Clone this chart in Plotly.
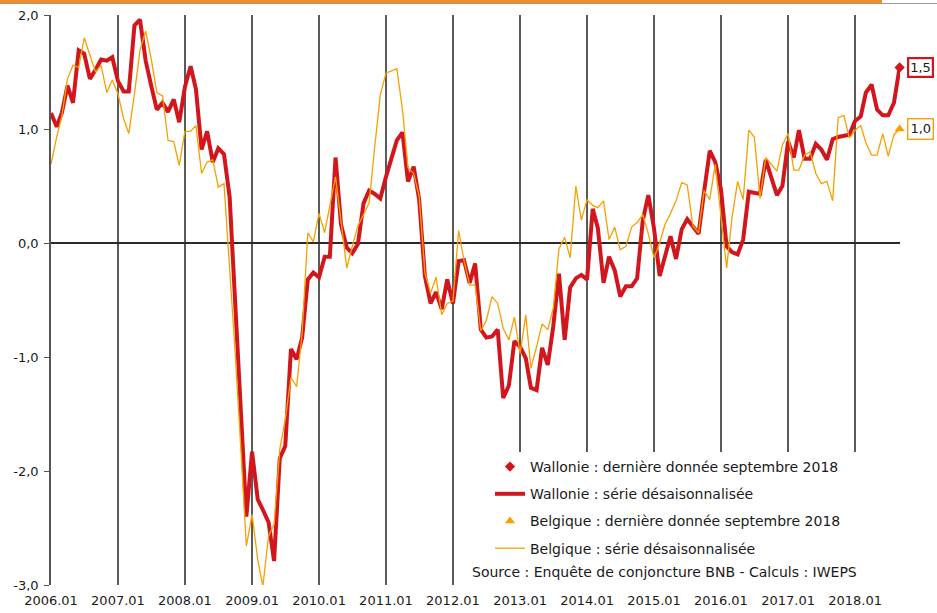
import plotly.graph_objects as go
import pandas as pd

# ---------------- data ----------------
start_month = "2006-01-01"
n_months = 153  # 2006.01 .. 2018.09

wallonie = [
    1.14, 1.02, 1.14, 1.38, 1.23, 1.69, 1.66, 1.44, 1.52, 1.61, 1.60, 1.63,   # 2006
    1.42, 1.33, 1.33, 1.91, 1.96, 1.60, 1.38, 1.17, 1.23, 1.15, 1.26, 1.06,   # 2007
    1.37, 1.55, 1.35, 0.82, 0.98, 0.71, 0.83, 0.78, 0.40, -0.53, -1.46, -2.40,  # 2008
    -1.83, -2.25, -2.34, -2.45, -2.79, -1.89, -1.78, -0.93, -1.02, -0.83, -0.32, -0.26,  # 2009
    -0.30, -0.12, -0.12, 0.75, 0.16, -0.04, -0.09, -0.01, 0.35, 0.46, 0.43, 0.39,  # 2010
    0.58, 0.75, 0.90, 0.97, 0.54, 0.67, 0.38, -0.29, -0.53, -0.43, -0.58, -0.32,  # 2011
    -0.53, -0.16, -0.15, -0.35, -0.18, -0.76, -0.83, -0.82, -0.76, -1.36, -1.25, -0.86,  # 2012
    -0.91, -1.01, -1.27, -1.29, -0.92, -1.07, -0.73, -0.27, -0.85, -0.39, -0.31, -0.28,  # 2013
    -0.32, 0.30, 0.13, -0.35, -0.12, -0.24, -0.47, -0.38, -0.38, -0.31, 0.20, 0.42,  # 2014
    0.13, -0.29, -0.12, 0.06, -0.14, 0.12, 0.21, 0.15, 0.08, 0.45, 0.81, 0.71,  # 2015
    0.47, -0.03, -0.08, -0.10, 0.03, 0.45, 0.44, 0.43, 0.73, 0.58, 0.42, 0.50,  # 2016
    0.89, 0.75, 0.99, 0.74, 0.74, 0.87, 0.82, 0.73, 0.91, 0.93, 0.94, 0.95,  # 2017
    1.07, 1.11, 1.32, 1.39, 1.17, 1.12, 1.12, 1.23, 1.54,  # 2018
]

belgique = [
    0.69, 0.93, 1.11, 1.44, 1.56, 1.54, 1.80, 1.65, 1.50, 1.56, 1.32, 1.43,   # 2006
    1.31, 1.09, 0.96, 1.31, 1.69, 1.86, 1.62, 1.32, 1.29, 0.90, 0.89, 0.68,   # 2007
    0.98, 0.98, 1.03, 0.61, 0.71, 0.73, 0.49, 0.52, -0.20, -0.96, -1.81, -2.66,  # 2008
    -2.38, -2.78, -3.01, -2.57, -2.47, -1.81, -1.55, -1.18, -1.26, -0.79, 0.09, 0.01,  # 2009
    0.26, 0.09, 0.33, 0.58, 0.19, -0.22, -0.03, 0.15, 0.25, 0.35, 0.85, 1.30,  # 2010
    1.49, 1.51, 1.53, 1.17, 0.66, 0.61, 0.41, -0.26, -0.44, -0.30, -0.63, -0.53,  # 2011
    -0.51, 0.11, -0.15, -0.37, -0.37, -0.77, -0.68, -0.47, -0.53, -0.75, -0.85, -0.65,  # 2012
    -0.97, -0.63, -1.10, -0.91, -0.71, -0.76, -0.57, -0.05, 0.05, -0.13, 0.50, 0.20,  # 2013
    0.38, 0.33, 0.31, 0.37, 0.03, 0.14, -0.06, -0.03, 0.14, 0.18, 0.25, 0.08,  # 2014
    -0.13, 0.00, 0.16, 0.26, 0.37, 0.53, 0.51, 0.15, 0.09, 0.46, 0.38, 0.69,  # 2015
    0.23, -0.22, 0.22, 0.54, 0.38, 0.99, 0.93, 0.39, 0.75, 0.69, 0.63, 0.86,  # 2016
    0.96, 0.64, 0.64, 0.77, 0.80, 0.61, 0.52, 0.54, 0.37, 1.10, 1.12, 0.92,  # 2017
    0.99, 1.03, 0.88, 0.77, 0.77, 0.96, 0.76, 0.95, 1.00,  # 2018
]

x_tick_labels = ["2006.01", "2007.01", "2008.01", "2009.01", "2010.01", "2011.01",
                 "2012.01", "2013.01", "2014.01", "2015.01", "2016.01", "2017.01",
                 "2018.01"]
y_tick_values = [2, 1, 0, -1, -2, -3]
y_tick_labels = ["2,0", "1,0", "0,0", "-1,0", "-2,0", "-3,0"]

wal_last_label = "1,5"
bel_last_label = "1,0"

# ---------------- styling ----------------
RED = "#D2161E"
ORANGE = "#F7A000"
TOPBAR = "#F28C28"
FONT = "DejaVu Sans"
TXT = "#1a1a1a"
W, H = 937, 613
L, R, T, B = 51, 37, 15, 28
PW, PH = W - L - R, H - T - B


def px_x(px):
    return (px - L) / PW


def px_y(py):
    return (H - B - py) / PH


months = pd.date_range(start_month, periods=n_months, freq="MS")
tick_vals = [pd.Timestamp(t.replace(".", "-") + "-01") for t in x_tick_labels]

fig = go.Figure()

fig.add_trace(go.Scatter(
    x=[months[-1]], y=[wallonie[-1]], mode="markers",
    marker=dict(symbol="diamond", size=8, color=RED),
    name="Wallonie : dernière donnée septembre 2018",
    legendgroup="g1", cliponaxis=False))
fig.add_trace(go.Scatter(
    x=months, y=wallonie, mode="lines",
    line=dict(color=RED, width=4),
    name="Wallonie : série désaisonnalisée", legendgroup="g2"))
fig.add_trace(go.Scatter(
    x=[months[-1]], y=[belgique[-1]], mode="markers",
    marker=dict(symbol="triangle-up", size=9, color=ORANGE),
    name="Belgique : dernière donnée septembre 2018",
    legendgroup="g3", cliponaxis=False))
fig.add_trace(go.Scatter(
    x=months, y=belgique, mode="lines",
    line=dict(color=ORANGE, width=1.3),
    name="Belgique : série désaisonnalisée", legendgroup="g4"))

fig.update_layout(
    width=W, height=H,
    margin=dict(l=L, r=R, t=T, b=B, autoexpand=False),
    paper_bgcolor="white", plot_bgcolor="white",
    font=dict(family=FONT, size=13, color=TXT),
    showlegend=True,
    legend=dict(
        x=px_x(490), y=px_y(451), xanchor="left", yanchor="top",
        bgcolor="rgba(255,255,255,0)", font=dict(size=14, color=TXT),
        tracegroupgap=6, traceorder="grouped", itemwidth=30,
    ),
    xaxis=dict(
        type="date", automargin=False,
        range=[months[0], months[-1] + pd.Timedelta(days=2)],
        tickvals=tick_vals, ticktext=x_tick_labels,
        showgrid=True, gridcolor="#5a5a5a", gridwidth=1.6,
        zeroline=False, showline=False, ticks="",
        ticklabelstandoff=6,
        tickfont=dict(size=13, color=TXT),
    ),
    yaxis=dict(
        automargin=False,
        range=[-3, 2], tickvals=y_tick_values, ticktext=y_tick_labels,
        showgrid=False, zeroline=True, zerolinecolor="#2a2a2a", zerolinewidth=1.6,
        showline=True, linecolor="#555555", linewidth=1.6,
        ticks="outside", ticklen=5, tickcolor="#555555",
        ticklabelstandoff=3,
        tickfont=dict(size=13, color=TXT),
    ),
    shapes=[
        # white box behind legend / source
        dict(type="rect", xref="paper", yref="paper",
             x0=px_x(460), x1=px_x(W + 5), y0=px_y(586), y1=px_y(452),
             fillcolor="white", line=dict(width=0), layer="above"),
        # top decoration
        dict(type="line", xref="paper", yref="paper",
             x0=px_x(0), x1=px_x(W), y0=px_y(3.5), y1=px_y(3.5),
             line=dict(color="#9a9a9a", width=1), layer="above"),
        dict(type="rect", xref="paper", yref="paper",
             x0=px_x(-2), x1=px_x(882), y0=px_y(3.2), y1=px_y(-1),
             fillcolor=TOPBAR, line=dict(width=0), layer="above"),
    ],
    annotations=[
        dict(xref="paper", yref="paper", x=px_x(470), y=px_y(572),
             xanchor="left", yanchor="middle", showarrow=False,
             text="Source : Enquête de conjoncture BNB - Calculs : IWEPS",
             font=dict(size=14, color=TXT)),
        dict(x=months[-1], y=wallonie[-1], xanchor="left", yanchor="middle",
             xshift=7, showarrow=False, text=wal_last_label,
             bordercolor=RED, borderwidth=2.2, borderpad=1, bgcolor="white",
             font=dict(size=13, color=TXT)),
        dict(x=months[-1], y=belgique[-1], xanchor="left", yanchor="middle",
             xshift=7, showarrow=False, text=bel_last_label,
             bordercolor=ORANGE, borderwidth=1.4, borderpad=2, bgcolor="white",
             font=dict(size=13, color=TXT)),
    ],
)

fig.write_html(
    "out.html",
    config={"displayModeBar": False},
    post_script="document.body.style.margin='0';document.body.style.overflow='hidden';",
)
